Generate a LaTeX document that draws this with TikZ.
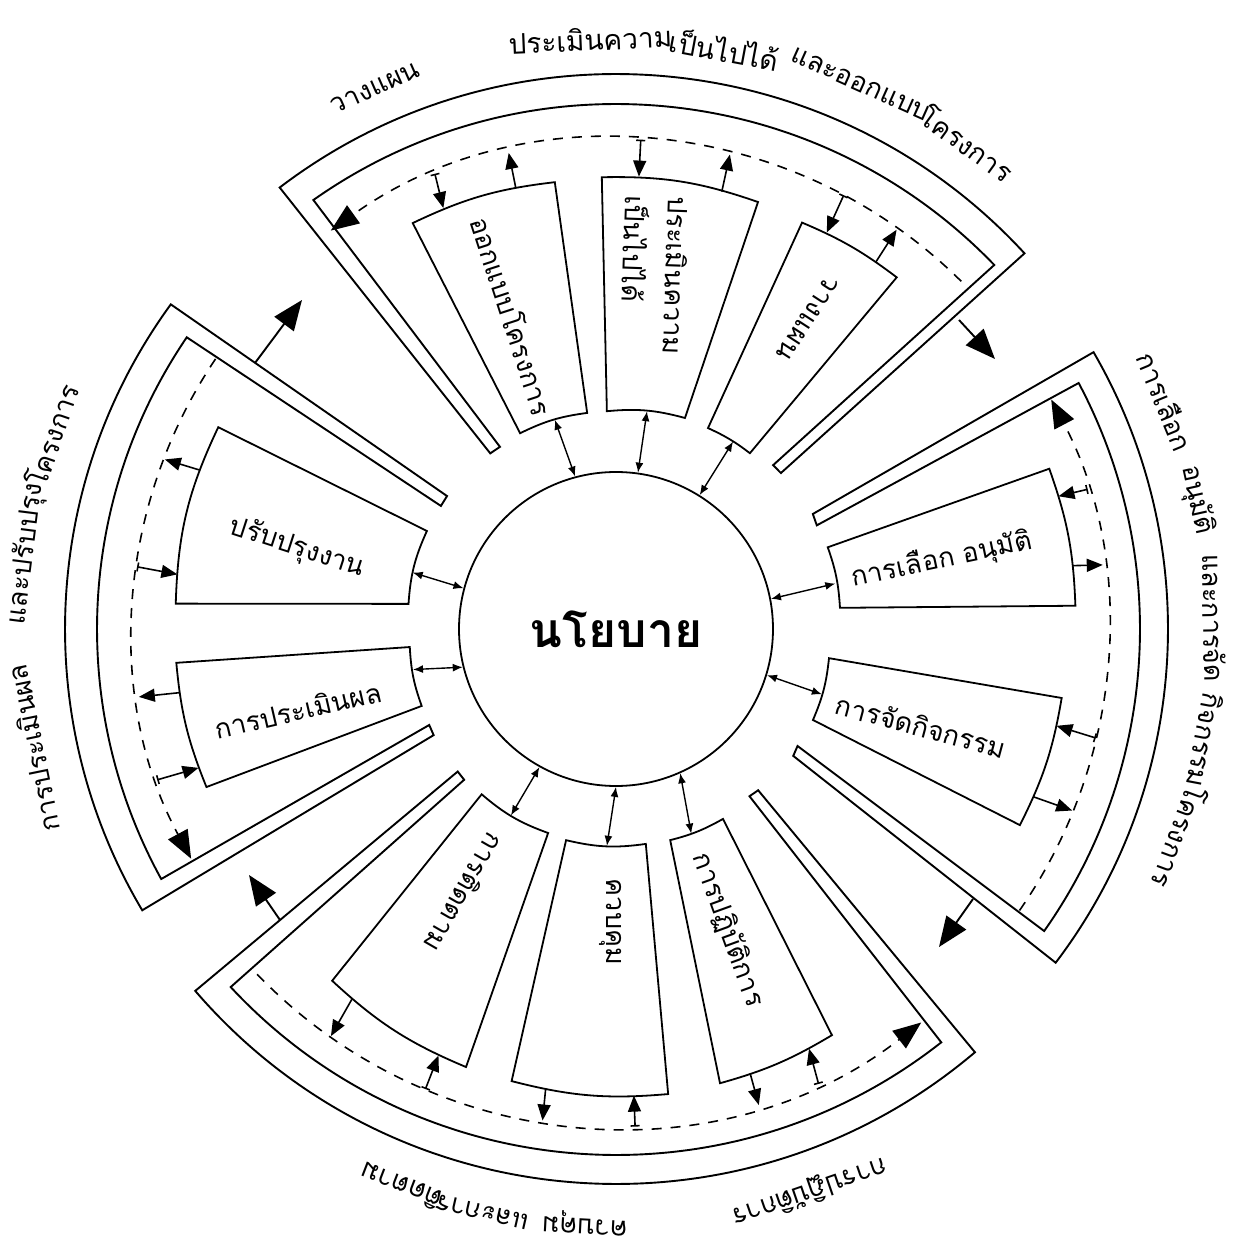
\documentclass[tikz,border=0pt]{standalone}
\usepackage{fontspec}
\newfontfamily\thai[Script=Thai]{Loma}
\usetikzlibrary{arrows.meta}
\begin{document}
\begin{tikzpicture}[x=1pt,y=1pt,
  frame/.style={line width=1.9pt, line join=miter},
  boxline/.style={line width=1.8pt, line join=miter},
  dashline/.style={line width=1.6pt, dash pattern=on 10pt off 9pt},
  lbl/.style={font=\thai\fontsize{27}{31}\selectfont, inner sep=0pt},
  lblb/.style={font=\thai\fontsize{28}{32}\selectfont, inner sep=0pt},
  boxtxt/.style={font=\thai\fontsize{27}{31}\selectfont, inner sep=0pt},
  cbar/.style={line width=1.4pt, {Latex[length=10pt,width=8pt]}-{Latex[length=10pt,width=8pt]}},
  outarr/.style={line width=1.6pt, -{Triangle[length=16pt,width=13pt]}},
  inarr/.style={line width=1.6pt, {Bar[width=9pt,line width=1.6pt]}-{Triangle[length=16pt,width=13pt]}},
  bigarr/.style={line width=1.9pt, -{Triangle[length=30pt,width=24pt]}},
  endarr/.style={-{Triangle[length=28pt,width=22pt]}}
]
\useasboundingbox (-616,-616) rectangle (625,629);
\fill[white] (-616,-616) rectangle (625,629);

% ---------- centre ----------
\node[circle, draw, line width=1.8pt, minimum size=314pt, inner sep=0pt,
      font=\thai\bfseries\fontsize{48}{56}\selectfont] (pol) at (0,0) {นโยบาย};

% ---------- frames ----------
\draw[frame] (125.6:216) -- (127.3:555) arc[start angle=127.3, end angle=42.6, radius=555]
  -- (43.4:227) -- (46.2:227) -- (43.9:525) arc[start angle=43.9, end angle=125.2, radius=525]
  -- (122.5:216) -- cycle;
\draw[frame] (30.3:228) -- (30.1:552) arc[start angle=30.1, end angle=-37.2, radius=552]
  -- (-35.6:218) -- (-32.8:216) -- (-35.2:524) arc[start angle=-35.2, end angle=28.0, radius=524]
  -- (27.3:226) -- cycle;
\draw[frame] (-138:213) -- (-139.3:555) arc[start angle=-139.3, end angle=-49.7, radius=555]
  -- (-48.6:215) -- (-51.4:214) -- (-51.8:526) arc[start angle=-51.8, end angle=-137.1, radius=526]
  -- (-135.2:214) -- cycle;
\draw[frame] (141.8:215) -- (143.9:551) arc[start angle=143.9, end angle=210.7, radius=551]
  -- (210.2:211) -- (207.2:210) -- (208.8:519) arc[start angle=208.8, end angle=145.8, radius=519]
  -- (144.9:214) -- cycle;

% ---------- dashed feedback arcs ----------
\draw[dashline, endarr] (45.2:490) arc[start angle=45.2, end angle=125.6, radius=490];
\draw[dashline, endarr] (-34.9:492) arc[start angle=-34.9, end angle=27.8, radius=492];
\draw[dashline, endarr] (-136.1:498) arc[start angle=-136.1, end angle=-52.2, radius=498];
\draw[dashline, endarr] (146:483) arc[start angle=146, end angle=208.4, radius=483];

% ---------- boxes ----------
\draw[boxline] (116.1:218) -- (116.6:454) to[bend left=9.4] (97.8:451) -- (97.6:218) to[bend right=9.25] (116.1:218) -- cycle;
\draw[boxline] (92.4:218) -- (91.8:452) to[bend left=10.1] (71.6:450) -- (71.9:222) to[bend right=10.25] (92.4:218) -- cycle;
\draw[boxline] (65.4:221) -- (65.4:447) to[bend left=7] (51.4:450) -- (52.7:221) to[bend right=6.35] (65.4:221) -- cycle;
\draw[boxline] (21.1:227) -- (20.3:462) to[bend left=8.7] (2.9:460) -- (5.4:225) to[bend right=7.85] (21.1:227) -- cycle;
\draw[boxline] (-7.8:215) -- (-8.8:451) to[bend left=8.55] (-25.9:449) -- (-24.8:217) to[bend right=8.5] (-7.8:215) -- cycle;
\draw[boxline] (-108.4:215) -- (-108.9:463) to[bend left=10] (-128.9:452) -- (-129.1:213) to[bend right=10.35] (-108.4:215) -- cycle;
\draw[boxline] (-82.1:217) -- (-83.6:468) to[bend left=9.7] (-103:464) -- (-103.3:217) to[bend right=10.6] (-82.1:217) -- cycle;
\draw[boxline] (-60.6:218) -- (-62:460) to[bend left=7.55] (-77.1:466) -- (-75.6:218) to[bend right=7.5] (-60.6:218) -- cycle;
\draw[boxline] (173.1:209) -- (176.7:441) to[bend left=11.8] (153.1:446) -- (152.6:213) to[bend right=10.25] (173.1:209) -- cycle;
\draw[boxline] (201.6:209) -- (201.1:439) to[bend left=8.35] (184.4:441) -- (185.0:207) to[bend right=8.3] (201.6:209) -- cycle;

% ---------- box texts ----------
\node[boxtxt, rotate=-72] (t1) at (-103,313) {ออกแบบโครงการ};
\node[boxtxt, rotate=-92, align=left, font=\thai\fontsize{27}{43}\selectfont] (t2) at (39,354) {ประเมินความ\\เป็นไปได้};
\node[boxtxt, rotate=-123] (t3) at (192,311) {วางแผน};
\node[boxtxt, rotate=12] (r1) at (326,69) {การเลือก อนุมัติ};
\node[boxtxt, rotate=-15] (r2) at (305,-97) {การจัดกิจกรรม};
\node[boxtxt, rotate=-120] (b1) at (-151,-264) {การติดตาม};
\node[boxtxt, rotate=-90] (b2) at (-5,-293) {ควบคุม};
\node[boxtxt, rotate=-70] (b3) at (112,-301) {การปฏิบัติการ};
\node[boxtxt, rotate=-18] (l1) at (-319,81) {ปรับปรุงงาน};
\node[boxtxt, rotate=13] (l2) at (-318,-81) {การประเมินผล};

% ---------- circle <-> box arrows ----------
\coordinate (t1i) at (106.3:218); \draw[cbar] (pol.105.8) -- (t1i);
\coordinate (t2i) at (81.9:220);  \draw[cbar] (pol.82.3) -- (t2i);
\coordinate (t3i) at (58:221);    \draw[cbar] (pol.58.5) -- (t3i);
\coordinate (r1i) at (11.7:224);  \draw[cbar] (pol.11.9) -- (r1i);
\coordinate (r2i) at (-17.6:216); \draw[cbar] (pol.-17.5) -- (r2i);
\coordinate (b1i) at (-119.4:214);\draw[cbar] (pol.-119.7) -- (b1i);
\coordinate (b2i) at (-92.4:217); \draw[cbar] (pol.-90.7) -- (b2i);
\coordinate (b3i) at (-69.8:218); \draw[cbar] (pol.-66.5) -- (b3i);
\coordinate (l1i) at (164.5:211); \draw[cbar] (pol.165.7) -- (l1i);
\coordinate (l2i) at (191.3:207); \draw[cbar] (pol.194) -- (l2i);

% ---------- box <-> dashed arc arrows ----------
\coordinate (t1oa) at (102.8:452); \coordinate (t1ob) at (102.7:488); \draw[outarr] (t1oa) -- (t1ob);
\coordinate (t1ia) at (111.7:490); \coordinate (t1ib) at (112.3:455); \draw[inarr] (t1ia) -- (t1ib);
\coordinate (t2oa) at (76.4:450);  \coordinate (t2ob) at (76.5:488);  \draw[outarr] (t2oa) -- (t2ob);
\coordinate (t2ia) at (87.1:490);  \coordinate (t2ib) at (87.1:453);  \draw[inarr] (t2ia) -- (t2ib);
\coordinate (t3oa) at (54.7:450);  \coordinate (t3ob) at (54.9:488);  \draw[outarr] (t3oa) -- (t3ob);
\coordinate (t3ia) at (62.3:490);  \coordinate (t3ib) at (62:449);    \draw[inarr] (t3ia) -- (t3ib);
\coordinate (r1oa) at (7.9:461);   \coordinate (r1ob) at (7.5:491);   \draw[outarr] (r1oa) -- (r1ob);
\coordinate (r1ia) at (16.5:492);  \coordinate (r1ib) at (16.7:462);  \draw[inarr] (r1ia) -- (r1ib);
\coordinate (r2oa) at (-21.9:450); \coordinate (r2ob) at (-21.7:491); \draw[outarr] (r2oa) -- (r2ob);
\coordinate (r2ia) at (-12.8:492); \coordinate (r2ib) at (-12.4:451); \draw[inarr] (r2ia) -- (r2ib);
\coordinate (b1oa) at (-125.5:455);\coordinate (b1ob) at (-125:497);  \draw[outarr] (b1oa) -- (b1ob);
\coordinate (b1ia) at (-112.5:498);\coordinate (b1ib) at (-112.6:462);\draw[inarr] (b1ia) -- (b1ib);
\coordinate (b2oa) at (-98.7:465); \coordinate (b2ob) at (-98.5:497); \draw[outarr] (b2oa) -- (b2ob);
\coordinate (b2ia) at (-87.8:498); \coordinate (b2ib) at (-87.8:467); \draw[inarr] (b2ia) -- (b2ib);
\coordinate (b3oa) at (-73.2:464); \coordinate (b3ob) at (-73.3:497); \draw[outarr] (b3oa) -- (b3ob);
\coordinate (b3ia) at (-66:498);   \coordinate (b3ib) at (-65.3:462); \draw[inarr] (b3ia) -- (b3ib);
\coordinate (l1oa) at (159.1:445); \coordinate (l1ob) at (159.4:482); \draw[outarr] (l1oa) -- (l1ob);
\coordinate (l1ia) at (172.6:483); \coordinate (l1ib) at (172.9:442); \draw[inarr] (l1ia) -- (l1ib);
\coordinate (l2oa) at (188.3:441); \coordinate (l2ob) at (188.1:482); \draw[outarr] (l2oa) -- (l2ob);
\coordinate (l2ia) at (198.2:483); \coordinate (l2ib) at (198.4:440); \draw[inarr] (l2ia) -- (l2ib);

% ---------- arrows between the stages ----------
\coordinate (trA) at (343,309);   \coordinate (trB) at (379,270);   \draw[bigarr] (trA) -- (trB);
\coordinate (rbA) at (357,-270);  \coordinate (rbB) at (323,-318);  \draw[bigarr] (rbA) -- (rbB);
\coordinate (blA) at (-336,-291); \coordinate (blB) at (-367,-246); \draw[bigarr] (blA) -- (blB);
\coordinate (ltA) at (-361,266);  \coordinate (ltB) at (-314,329);  \draw[bigarr] (ltA) -- (ltB);

% ---------- outer labels ----------
\node[lbl, rotate=24]    (ta) at (114:592) {วางแผน};
\node[lblb, rotate=2.5]  (tb) at (92.5:590) {ประเมินความ};
\node[lblb, rotate=-10.6] (tc) at (79.4:590) {เป็นไปได้};
\node[lbl, rotate=-24.2] (td) at (65.8:597) {และออกแบบ};
\node[lbl, rotate=-35.9] (te) at (54.1:600) {โครงการ};

\node[lbl, rotate=-67.5]  (ra) at (22.5:595) {การเลือก};
\node[lbl, rotate=-77.5]  (rb) at (12.5:595) {อนุมัติ};
\node[lbl, rotate=-88.95] (rc) at (1.05:598) {และการจัด};
\node[lbl, rotate=-100.7] (rd) at (-10.7:600) {กิจกรรม};
\node[lbl, rotate=-110.3] (re) at (-20.3:602) {โครงการ};

\node[lbl, rotate=-161]   (ba) at (-71:595)    {การปฏิบัติการ};
\node[lbl, rotate=-183]   (bb) at (-93:595)    {ควบคุม};
\node[lbl, rotate=-192.9] (bc) at (-102.9:598) {และการ};
\node[lbl, rotate=-201.1] (bd) at (-111.1:598) {ติดตาม};

\node[lbl, rotate=101.6] (la) at (191.6:595) {การประเมินผล};
\node[lbl, rotate=82.75] (lb) at (172.75:595) {และปรับปรุง};
\node[lbl, rotate=71]    (lc) at (161:597) {โครงการ};
\end{tikzpicture}
\end{document}
